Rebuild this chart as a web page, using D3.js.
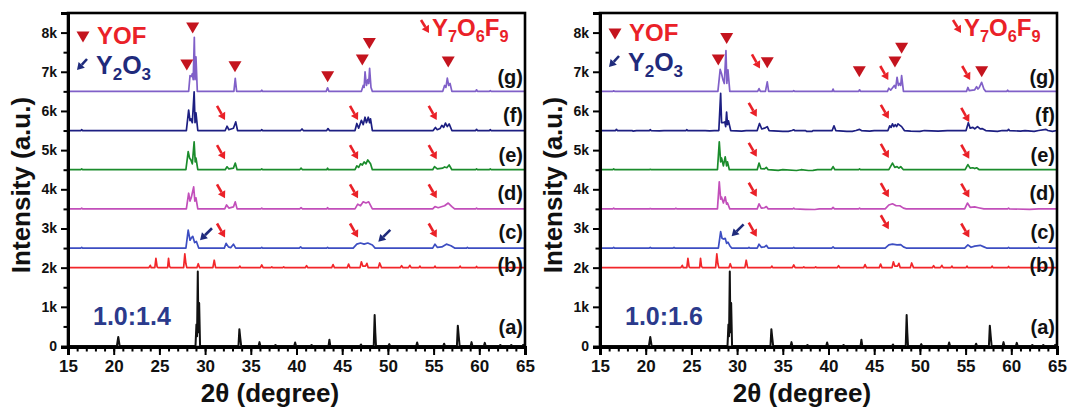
<!DOCTYPE html>
<html>
<head>
<meta charset="utf-8">
<script src="https://cdn.jsdelivr.net/npm/d3@7"></script>
<style>
body { margin: 0; background: #fff; }
svg { display: block; font-family: "Liberation Sans", Arial, sans-serif; font-weight: bold; }
</style>
</head>
<body>
<svg id="chart" width="1068" height="408"></svg>
<script>
// stacked XRD patterns, intensity above each curve's own baseline
const seriesKeys = ["a", "b", "c", "d", "e", "f", "g"];
const baselines = [0, 2000, 2500, 3500, 4500, 5500, 6500];
const panelRatios = ["1.0:1.4", "1.0:1.6"];

// (a) and (b) are the same reference patterns in both panels
const patternA = [[15,0],[20.35,0],[20.5,230],[20.65,0],[28.95,0],[29.05,550],[29.12,250],[29.2,1900],[29.27,350],[29.35,1100],[29.45,0],[33.65,0],[33.75,430],[33.85,200],[33.95,0],[35.85,0],[35.95,100],[36.05,0],[37.6,0],[37.7,25],[37.8,0],[39.75,0],[39.85,90],[39.95,0],[41.55,0],[41.65,25],[41.75,0],[43.5,0],[43.6,160],[43.7,0],[46.95,0],[47.05,40],[47.15,0],[48.45,0],[48.55,790],[48.62,350],[48.7,0],[50.05,0],[50.15,50],[50.25,0],[53.1,0],[53.2,90],[53.3,0],[56.05,0],[56.15,60],[56.25,0],[57.55,0],[57.65,520],[57.75,250],[57.85,0],[59.05,0],[59.15,100],[59.25,0],[60.5,0],[60.6,80],[60.7,0],[62.2,0],[62.3,25],[62.4,0],[63.4,0],[63.5,25],[63.6,0],[64.7,0],[64.8,30],[64.9,0],[65,0]];
const patternB = [[15,0],[23.85,0],[24.0,60],[24.1,0],[24.5,0],[24.62,240],[24.75,20],[24.85,0],[25.9,0],[26.0,240],[26.1,40],[26.2,0],[27.65,0],[27.78,350],[27.9,100],[28.0,0],[29.1,0],[29.25,100],[29.4,0],[30.85,0],[31.0,190],[31.15,0],[33.7,0],[33.8,40],[33.9,0],[36.05,0],[36.2,70],[36.35,0],[37.2,0],[37.3,20],[37.4,0],[38.5,0],[38.6,20],[38.7,0],[40.95,0],[41.1,50],[41.25,0],[43.85,0],[44.0,80],[44.15,0],[45.55,0],[45.7,90],[45.85,0],[46.95,0],[47.1,150],[47.25,40],[47.55,40],[47.7,110],[47.85,0],[48.95,0],[49.1,120],[49.3,0],[51.35,0],[51.5,50],[51.65,0],[52.25,0],[52.4,60],[52.55,0],[53.4,0],[53.5,40],[53.6,0],[55.05,0],[55.15,40],[55.25,0],[57.8,0],[57.9,40],[58.0,0],[59.6,0],[59.7,30],[59.8,0],[65,0]];

// left panel, 1.0:1.4
const left_c = [[15,0],[16.4,0],[16.5,20],[16.6,0],[27.9,0],[28.15,460],[28.35,200],[28.5,260],[28.65,300],[28.85,140],[29.05,170],[29.3,0],[32.1,0],[32.3,120],[32.55,30],[32.8,10],[33.1,100],[33.35,0],[36.1,0],[36.2,20],[36.3,0],[40.3,0],[40.45,30],[40.6,0],[43.3,0],[43.4,20],[43.5,0],[46.2,0],[46.6,100],[47.0,130],[47.4,100],[47.8,130],[48.3,80],[48.6,0],[54.9,0],[55.15,100],[55.4,20],[55.9,30],[56.4,100],[56.9,60],[57.3,0],[58.6,0],[58.7,20],[58.8,0],[65,0]];
const left_d = [[15,0],[16.4,0],[16.5,20],[16.6,0],[27.95,0],[28.2,400],[28.35,200],[28.5,300],[28.75,560],[28.88,200],[29.0,280],[29.2,0],[32.15,0],[32.35,100],[32.6,20],[33.1,50],[33.3,180],[33.5,0],[36.1,0],[36.2,20],[36.3,0],[40.35,0],[40.5,30],[40.65,0],[43.3,0],[43.4,30],[43.5,0],[46.4,0],[46.7,120],[47.0,80],[47.3,180],[47.6,150],[47.9,180],[48.3,0],[54.9,0],[55.15,60],[55.5,30],[56.2,80],[56.6,150],[57.0,60],[57.3,0],[59.6,0],[59.7,20],[59.8,0],[65,0]];
const left_e = [[15,0],[16.4,0],[16.5,20],[16.6,0],[27.9,0],[28.15,460],[28.3,300],[28.45,250],[28.6,150],[28.8,710],[28.92,200],[29.0,300],[29.2,0],[32.2,0],[32.4,75],[32.6,20],[33.1,40],[33.3,170],[33.5,0],[36.1,0],[36.2,20],[36.3,0],[40.35,0],[40.5,40],[40.65,0],[43.3,0],[43.4,40],[43.5,0],[46.4,0],[46.6,100],[46.8,60],[47.0,150],[47.2,120],[47.4,200],[47.6,150],[47.8,250],[48.1,150],[48.3,0],[54.9,0],[55.1,80],[55.4,20],[56.0,40],[56.2,70],[56.45,50],[56.7,120],[57.0,0],[59.6,0],[59.7,20],[59.8,0],[61.1,0],[61.2,20],[61.3,0],[65,0]];
const left_f = [[15,0],[16.4,0],[16.5,20],[16.6,0],[27.95,0],[28.2,520],[28.35,250],[28.45,300],[28.6,200],[28.8,990],[28.9,200],[29.0,450],[29.2,0],[32.2,0],[32.4,110],[32.6,20],[33.1,60],[33.35,220],[33.55,0],[36.1,0],[36.2,20],[36.3,0],[40.45,0],[40.6,40],[40.75,0],[43.3,0],[43.45,50],[43.6,0],[46.4,0],[46.6,180],[46.8,60],[47.1,260],[47.3,150],[47.5,340],[47.65,200],[47.85,340],[48.0,200],[48.1,300],[48.3,0],[54.95,0],[55.2,80],[55.4,20],[55.7,50],[55.9,130],[56.1,80],[56.3,190],[56.5,100],[56.7,170],[57.0,0],[59.6,0],[59.7,30],[59.8,0],[61.1,0],[61.2,20],[61.3,0],[65,0]];
const left_g = [[15,0],[28.2,0],[28.35,400],[28.5,380],[28.6,450],[28.7,300],[28.82,1380],[28.9,300],[29.0,880],[29.15,0],[33.15,0],[33.3,330],[33.45,0],[36.1,0],[36.2,30],[36.3,0],[43.25,0],[43.4,90],[43.55,0],[47.1,0],[47.3,150],[47.4,100],[47.5,500],[47.65,150],[47.8,300],[47.9,200],[48.0,590],[48.15,100],[48.3,0],[56.0,0],[56.2,150],[56.35,100],[56.5,340],[56.65,150],[56.8,200],[57.0,0],[59.6,0],[59.7,40],[59.8,0],[61.1,0],[61.2,20],[61.3,0],[65,0]];

// right panel, 1.0:1.6
const right_c = [[15,0],[16.4,0],[16.5,20],[16.6,0],[20.4,0],[20.5,15],[20.6,0],[23.0,0],[23.1,15],[23.2,0],[27.95,0],[28.2,420],[28.35,250],[28.5,230],[28.7,250],[28.85,120],[29.0,150],[29.2,60],[29.4,0],[31.2,0],[31.3,20],[31.4,0],[32.2,0],[32.4,100],[32.65,20],[33.0,30],[33.2,70],[33.4,0],[36.1,0],[36.2,20],[36.3,0],[40.35,0],[40.5,30],[40.65,0],[46.2,0],[46.6,80],[47.0,100],[47.5,80],[47.9,90],[48.2,30],[48.5,0],[54.9,0],[55.25,80],[55.6,20],[56.0,50],[56.6,70],[57.0,30],[57.3,0],[59.6,0],[59.7,20],[59.8,0],[62.9,0],[63.0,20],[63.1,0],[65,0]];
const right_d = [[15,0],[16.4,0],[16.5,20],[16.6,0],[20.4,0],[20.5,10],[20.6,0],[23.2,0],[23.3,15],[23.4,0],[27.85,0],[28.05,690],[28.2,250],[28.3,300],[28.5,150],[28.7,310],[28.85,120],[28.95,150],[29.2,0],[32.2,0],[32.4,130],[32.65,20],[33.0,30],[33.2,60],[33.4,0],[36.1,0],[36.2,20],[36.3,0],[37.5,-10],[38.5,-15],[39.0,0],[40.35,0],[40.5,40],[40.65,0],[43.3,0],[43.4,20],[43.5,0],[46.2,0],[46.6,100],[47.0,130],[47.4,80],[47.8,80],[48.2,20],[48.5,0],[54.9,0],[55.2,150],[55.5,40],[56.0,50],[56.4,30],[57.0,0],[59.6,0],[59.7,20],[59.8,0],[62,-10],[63,0],[65,0]];
const right_e = [[15,0],[16.4,0],[16.5,20],[16.6,0],[20.4,0],[20.5,10],[20.6,0],[27.85,0],[28.05,710],[28.2,200],[28.3,300],[28.5,100],[28.7,330],[28.85,100],[28.95,200],[29.15,0],[32.2,0],[32.4,170],[32.6,30],[33.0,20],[33.2,60],[33.4,0],[34.5,-15],[35,0],[36.5,-20],[37,0],[37.8,-20],[38.3,-15],[38.8,0],[40.3,0],[40.5,80],[40.7,0],[43.3,0],[43.4,20],[43.5,0],[46.6,0],[47.0,170],[47.25,60],[47.5,80],[47.7,40],[47.9,80],[48.2,0],[54.95,0],[55.25,130],[55.5,40],[55.8,50],[56.0,30],[56.2,50],[56.5,0],[65,0]];
const right_f = [[15,0],[16.7,0],[16.8,30],[16.9,0],[18.5,0],[18.6,-15],[19.0,0],[20.4,0],[20.5,20],[20.6,0],[21.5,-10],[22,0],[24.4,0],[24.5,20],[24.6,0],[26.5,0],[27.0,-10],[27.5,0],[28.0,0],[28.2,950],[28.3,200],[28.45,200],[28.65,220],[28.75,100],[28.85,470],[28.95,150],[29.05,250],[29.3,0],[30.5,-15],[31.0,0],[32.2,0],[32.45,180],[32.7,40],[33.0,60],[33.3,100],[33.5,0],[35.0,-20],[35.6,-20],[36.0,0],[36.2,20],[36.3,0],[37.5,0],[37.6,-20],[38.2,-20],[38.3,0],[40.4,0],[40.6,120],[40.8,0],[42,-20],[42.6,-20],[43,0],[43.4,30],[43.6,0],[44.5,-15],[45,0],[46.5,0],[46.7,120],[46.85,80],[47.0,170],[47.15,100],[47.3,150],[47.45,100],[47.6,170],[48.0,100],[48.3,0],[49,-15],[50,-20],[50.5,0],[52,-15],[53,0],[55.05,0],[55.3,200],[55.5,60],[55.8,80],[56.0,40],[56.3,100],[56.6,40],[56.8,50],[57.2,0],[58.5,-20],[59,0],[59.6,0],[59.7,30],[59.8,0],[61,-15],[61.5,0],[62.5,-20],[63,0],[63.8,30],[64,0],[64.5,-20],[65,0]];
const right_g = [[15,0],[16.4,0],[16.5,15],[16.6,0],[27.9,0],[28.15,560],[28.3,450],[28.45,300],[28.6,200],[28.78,1040],[28.88,200],[29.0,550],[29.2,0],[32.25,0],[32.4,70],[32.55,0],[33.1,0],[33.3,240],[33.45,0],[36.1,0],[36.2,20],[36.3,0],[40.4,0],[40.5,60],[40.6,0],[43.3,0],[43.4,40],[43.5,0],[46.45,0],[46.6,80],[46.8,30],[47.2,150],[47.35,80],[47.5,360],[47.65,150],[47.8,200],[47.9,150],[48.0,400],[48.2,0],[55.1,0],[55.25,100],[55.4,20],[56.0,40],[56.2,120],[56.35,60],[56.5,100],[56.75,230],[57.0,60],[57.2,0],[59.5,0],[59.6,30],[59.7,0],[65,0]];

// phase markers, [2theta, intensity]
const yofLeft = [[28.0,7170],[28.64,8120],[33.27,7125],[43.41,6870],[47.2,7300],[47.97,7720],[56.6,7250]];
const yofRight = [[27.94,7300],[28.86,7850],[33.3,7230],[43.37,7000],[47.27,7250],[48.0,7600],[56.76,7000]];
const y7Left = [[32.18,5770],[46.73,5770],[55.34,5770],[32.18,4770],[46.73,4770],[55.34,4770],[32.18,3770],[46.73,3770],[55.34,3770],[32.18,2770],[46.73,2770],[55.34,2770]];
const y7Right = [[32.5,7085],[46.54,6790],[55.5,6790],[32.15,5850],[46.6,5800],[55.4,5720],[32.15,4830],[46.6,4800],[55.4,4780],[32.15,3810],[46.6,3800],[55.4,3790],[32.15,2790],[46.6,2980],[55.4,2770]];
const y2o3Left = [[29.44,2700],[48.95,2660]];
const y2o3Right = [[29.4,2800]];

const xTicks = d3.range(15, 66, 5);
const yTicks = d3.range(0, 8001, 1000);

const colors = ["#111111", "#f2262a", "#3d4ec2", "#c24fba", "#1b8c2c", "#1d1f82", "#8060c8"];
const red = "#ea2128", navy = "#1f2b7c", darkRed = "#c4141e";

const svg = d3.select("#chart");

function arrow(g, x1, y1, x2, y2, color) {
  const ang = Math.atan2(y2 - y1, x2 - x1);
  const hl = 7, hw = 4.2;
  const bx = x2 - hl * Math.cos(ang), by = y2 - hl * Math.sin(ang);
  g.append("line").attr("x1", x1).attr("y1", y1).attr("x2", bx).attr("y2", by)
    .attr("stroke", color).attr("stroke-width", 2.6);
  const px = -Math.sin(ang) * hw, py = Math.cos(ang) * hw;
  g.append("path")
    .attr("d", `M${x2},${y2}L${bx + px},${by + py}L${bx - px},${by - py}Z`)
    .attr("fill", color);
}

function tri(g, cx, cy) {
  g.append("path")
    .attr("d", `M${cx - 6.5},${cy - 5.5}L${cx + 6.5},${cy - 5.5}L${cx},${cy + 5.5}Z`)
    .attr("fill", darkRed);
}

function subText(g, x, y, parts, color, size) {
  const t = g.append("text").attr("x", x).attr("y", y).attr("fill", color).attr("font-size", size);
  parts.forEach((p, i) => {
    if (i % 2 === 0) t.append("tspan").text(p).attr("font-size", size).attr("dy", i === 0 ? 0 : -6);
    else t.append("tspan").text(p).attr("font-size", size * 0.68).attr("dy", 6);
  });
  return t;
}

function drawPanel(ox, series, yof, y7, y2o3, ratio, legendDy) {
  const left = ox + 68, right = ox + 525, top = 13, bottom = 347;
  const x = d3.scaleLinear().domain([15, 65]).range([left, right]);
  const y = d3.scaleLinear().domain([-25, 8500]).range([bottom, top]);
  const g = svg.append("g");

  const line = d3.line().x(d => x(d[0])).y(d => y(d[1]));
  series.forEach((s, i) => {
    const off = baselines[i];
    g.append("path")
      .datum(s.map(p => [p[0], p[1] + off]))
      .attr("d", line)
      .attr("fill", "none")
      .attr("stroke", colors[i])
      .attr("stroke-width", i === 0 ? 2 : 1.7)
      .attr("stroke-linejoin", "round");
  });

  // frame
  g.append("rect").attr("x", left).attr("y", top).attr("width", right - left).attr("height", bottom - top)
    .attr("fill", "none").attr("stroke", "#000").attr("stroke-width", 2.6);

  // axes
  const xa = g.append("g").attr("transform", `translate(0,${bottom})`)
    .call(d3.axisBottom(x).tickValues(xTicks).tickSize(8).tickPadding(5).tickFormat(d3.format("d")));
  g.append("g").attr("transform", `translate(0,${bottom})`)
    .call(d3.axisBottom(x).tickValues(d3.range(15, 66, 1)).tickSize(4.5).tickFormat(""));
  const ya = g.append("g").attr("transform", `translate(${left},0)`)
    .call(d3.axisLeft(y).tickValues(yTicks).tickSize(7).tickPadding(4)
      .tickFormat(d => d === 0 ? "0" : d / 1000 + "k"));
  g.append("g").attr("transform", `translate(${left},0)`)
    .call(d3.axisLeft(y).tickValues(d3.range(500, 8501, 1000)).tickSize(4.5).tickFormat(""));
  g.selectAll(".domain").attr("stroke-width", 3);
  g.selectAll(".tick line").attr("stroke-width", 2);
  xa.selectAll("text").attr("font-size", 17).attr("fill", "#111").attr("font-family", "Liberation Sans, Arial").attr("font-weight", "bold");
  ya.selectAll("text").attr("font-size", 14).attr("fill", "#111").attr("font-family", "Liberation Sans, Arial").attr("font-weight", "bold");

  // curve labels
  const labelVals = [485, 2070, 2910, 3905, 4880, 5900, 6870];
  seriesKeys.forEach((k, i) => {
    g.append("text").attr("x", right - 2).attr("y", y(labelVals[i])).attr("dy", "0.36em")
      .attr("text-anchor", "end").attr("font-size", 20).attr("fill", "#111").text(`(${k})`);
  });

  // phase markers
  yof.forEach(d => tri(g, x(d[0]), y(d[1])));
  y7.forEach(d => arrow(g, x(d[0]) - 8, y(d[1]) - 14, x(d[0]), y(d[1]), red));
  y2o3.forEach(d => arrow(g, x(d[0]) + 12, y(d[1]) - 12, x(d[0]), y(d[1]), navy));

  // legend
  tri(g, ox + 83, 37 + legendDy);
  g.append("text").attr("x", ox + 97).attr("y", 44 + legendDy).attr("fill", red).attr("font-size", 24).text("YOF");
  arrow(g, ox + 87, 59 + legendDy, ox + 77, 70 + legendDy, navy);
  subText(g, ox + 96, 74 + legendDy, ["Y", "2", "O", "3"], navy, 25);
  arrow(g, ox + 421, 20, ox + 429, 33, red);
  subText(g, ox + 432, 36, ["Y", "7", "O", "6", "F", "9"], red, 24);

  g.append("text").attr("x", ox + 93).attr("y", 325).attr("fill", "#2b3a8c").attr("font-size", 25).text(ratio);

  // axis titles
  g.append("text").attr("transform", `translate(${ox + 30},185) rotate(-90)`)
    .attr("text-anchor", "middle").attr("font-size", 26).attr("fill", "#111").text("Intensity (a.u.)");
  g.append("text").attr("x", ox + 270).attr("y", 402).attr("text-anchor", "middle")
    .attr("font-size", 26).attr("fill", "#111").text("2θ (degree)");
}

drawPanel(0, [patternA, patternB, left_c, left_d, left_e, left_f, left_g], yofLeft, y7Left, y2o3Left, panelRatios[0], 0);
drawPanel(532, [patternA, patternB, right_c, right_d, right_e, right_f, right_g], yofRight, y7Right, y2o3Right, panelRatios[1], -3);
</script>
</body>
</html>
